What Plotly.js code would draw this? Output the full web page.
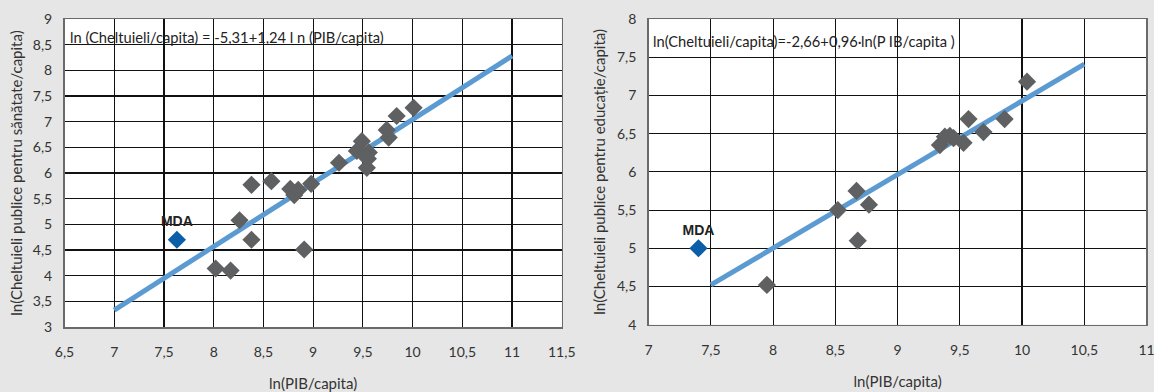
<!DOCTYPE html>
<html>
<head>
<meta charset="utf-8">
<script src="https://cdn.plot.ly/plotly-3.0.1.min.js"></script>
<style>html,body{margin:0;padding:0;background:#e6e6e6;}#chart{width:1154px;height:392px;}</style>
</head>
<body>
<div id="chart"></div>
<script>
// Left panel: health spending vs GDP per capita (logs)
const healthX = [8.02, 8.17, 8.26, 8.38, 8.38, 8.58, 8.77, 8.81, 8.85, 8.91, 8.98, 9.26, 9.44, 9.49, 9.51, 9.56, 9.55, 9.54, 9.74, 9.76, 9.84, 10.01];
const healthY = [4.14, 4.10, 5.08, 4.70, 5.77, 5.84, 5.69, 5.57, 5.67, 4.51, 5.79, 6.20, 6.43, 6.62, 6.36, 6.40, 6.28, 6.10, 6.84, 6.69, 7.11, 7.27];
const healthMdaX = [7.63];
const healthMdaY = [4.70];
const healthFitX = [7, 11];
const healthFitY = [3.33, 8.28];
const healthEquation = "ln (Cheltuieli/capita) = -5,31+1,24 l n (PIB/capita)";
const healthYTitle = "ln(Cheltuieli publice pentru sănătate/capita)";

// Right panel: education spending vs GDP per capita (logs)
const eduX = [7.95, 8.52, 8.67, 8.68, 8.77, 9.34, 9.38, 9.42, 9.45, 9.53, 9.57, 9.69, 9.86, 10.04];
const eduY = [4.52, 5.50, 5.75, 5.10, 5.57, 6.35, 6.46, 6.47, 6.44, 6.38, 6.69, 6.52, 6.69, 7.18];
const eduMdaX = [7.40];
const eduMdaY = [5.00];
const eduFitX = [7.5, 10.5];
const eduFitY = [4.52, 7.41];
const eduEquation = "ln(Cheltuieli/capita)=-2,66+0,96·ln(P IB/capita )";
const eduYTitle = "ln(Cheltuieli publice pentru educație/capita)";

const xTitle = "ln(PIB/capita)";
const mdaLabel = "MDA";

const FONT = "Lato, 'Open Sans', sans-serif";
const lineColor = "#5b9bd1";
const greyColor = "#5f6062";
const mdaColor = "#0b5ea8";

function fit(x, y, xa, ya) {
  return {x: x, y: y, xaxis: xa, yaxis: ya, type: "scatter", mode: "lines",
    line: {color: lineColor, width: 5}, hoverinfo: "skip", showlegend: false};
}
function pts(x, y, xa, ya) {
  return {x: x, y: y, xaxis: xa, yaxis: ya, type: "scatter", mode: "markers",
    marker: {symbol: "diamond", size: 14, color: greyColor}, showlegend: false};
}
function mda(x, y, xa, ya) {
  return {x: x, y: y, xaxis: xa, yaxis: ya, type: "scatter", mode: "markers+text",
    text: [mdaLabel], textposition: "top center",
    textfont: {family: "'Liberation Sans', Arial, sans-serif", size: 14, color: "#222"},
    texttemplate: "<b>%{text}</b>",
    marker: {symbol: "diamond", size: 14, color: mdaColor}, showlegend: false};
}

const data = [
  fit(healthFitX, healthFitY, "x", "y"),
  pts(healthX, healthY, "x", "y"),
  mda(healthMdaX, healthMdaY, "x", "y"),
  fit(eduFitX, eduFitY, "x2", "y2"),
  pts(eduX, eduY, "x2", "y2"),
  mda(eduMdaX, eduMdaY, "x2", "y2")
];

const axisCommon = {
  showgrid: true, gridcolor: "#111111", gridwidth: 1.1,
  showline: true, linecolor: "#6a6a6a", linewidth: 1.5, mirror: true,
  zeroline: false, ticks: "", tickfont: {family: FONT, size: 14, color: "#333"},
  ticklabeloverflow: "allow",
  dtick: 0.5, fixedrange: true
};

const layout = {
  width: 1154, height: 392,
  paper_bgcolor: "#e6e6e6", plot_bgcolor: "#ffffff",
  separators: ", ",
  margin: {l: 0, r: 0, t: 19, b: 65},
  font: {family: FONT, color: "#333"},
  showlegend: false,
  xaxis: Object.assign({}, axisCommon, {domain: [0.0559, 0.4868], range: [6.5, 11.5], anchor: "y",
    ticklabelstandoff: 12,
    title: {text: xTitle, font: {family: FONT, size: 15, color: "#333"}, standoff: 19}}),
  yaxis: Object.assign({}, axisCommon, {domain: [0, 1], range: [3, 9], anchor: "x",
    ticklabelstandoff: 8,
    title: {text: healthYTitle, font: {family: FONT, size: 15, color: "#333"}, standoff: 6}}),
  xaxis2: Object.assign({}, axisCommon, {domain: [0.5621, 0.9935], range: [7, 11], anchor: "y2",
    ticklabelstandoff: 12,
    title: {text: xTitle, font: {family: FONT, size: 15, color: "#333"}, standoff: 19}}),
  yaxis2: Object.assign({}, axisCommon, {domain: [0.0075, 1], range: [4, 8], anchor: "x2",
    ticklabelstandoff: 8,
    title: {text: eduYTitle, font: {family: FONT, size: 15, color: "#333"}, standoff: 7}}),
  annotations: [
    {xref: "paper", yref: "paper", x: 68 / 1154, y: 1 - (37 - 19) / 308, xanchor: "left", yanchor: "middle",
     text: healthEquation, showarrow: false, font: {family: FONT, size: 14.7, color: "#222"}},
    {xref: "paper", yref: "paper", x: 651 / 1154, y: 1 - (41 - 19) / 308, xanchor: "left", yanchor: "middle",
     text: eduEquation, showarrow: false, font: {family: FONT, size: 14.7, color: "#222"}}
  ]
};

Plotly.newPlot("chart", data, layout, {displayModeBar: false, staticPlot: true});
</script>
</body>
</html>
